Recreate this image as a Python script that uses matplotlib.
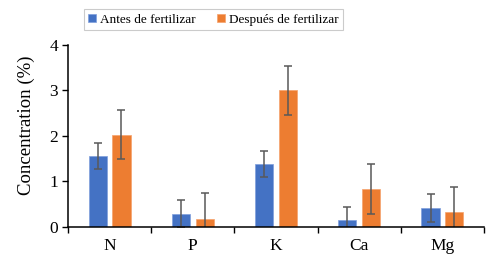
import numpy as np
import matplotlib.pyplot as plt

plt.rcParams['font.family'] = ['Liberation Serif', 'DejaVu Serif']

categories = ['N', 'P', 'K', 'Ca', 'Mg']
antes = [1.55, 0.29, 1.38, 0.15, 0.41]
antes_err = [0.29, 0.29, 0.29, 0.29, 0.30]
despues = [2.02, 0.18, 3.00, 0.82, 0.33]
despues_err = [0.54, 0.55, 0.54, 0.55, 0.54]

x = np.arange(len(categories))
w = 0.22
off = 0.143

fig = plt.figure(figsize=(5.0, 2.64), dpi=100)
ax = fig.add_axes([0.136, 0.1413, 0.832, 0.6894])

err_kw = dict(ecolor='#595959', elinewidth=1.1, capsize=3, capthick=1.1)
ax.bar(x - off, antes, w, yerr=antes_err, color='#4472C4', edgecolor='#7f9fdc',
       linewidth=0.5, label='Antes de fertilizar', error_kw=err_kw)
ax.bar(x + off, despues, w, yerr=despues_err, color='#ED7D31', edgecolor='#f5a26c',
       linewidth=0.5, label='Después de fertilizar', error_kw=err_kw)

ax.set_xlim(-0.5, len(categories) - 0.5)
ax.set_ylim(0, 4)
ax.set_yticks([0, 1, 2, 3, 4])
ax.set_xticks(x)
ax.set_xticklabels(categories, fontsize=12.5)
ax.set_xticks(np.arange(-0.5, len(categories)), minor=True)
ax.tick_params(axis='x', which='major', length=0, pad=8)
ax.tick_params(axis='x', which='minor', length=4, width=1, direction='out')
ax.tick_params(axis='y', labelsize=12.5, length=4, width=1, direction='out', pad=3)
ax.set_ylabel('Concentration (%)', fontsize=13.5)
ax.yaxis.set_label_coords(-0.08, 0.555)

for s in ['top', 'right']:
    ax.spines[s].set_visible(False)
for s in ['left', 'bottom']:
    ax.spines[s].set_linewidth(1.1)

leg = fig.legend(loc='center', bbox_to_anchor=(0.427, 0.926), ncol=2, fontsize=9.5,
                 frameon=True, fancybox=False, edgecolor='#bfbfbf',
                 handlelength=0.6, handleheight=0.6, handletextpad=0.3,
                 columnspacing=1.6, borderpad=0.35)
leg.get_frame().set_linewidth(0.8)

fig.savefig('out.png', dpi=100)
